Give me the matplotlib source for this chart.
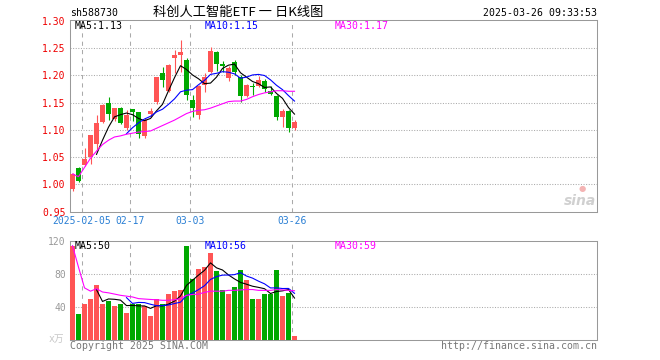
import matplotlib
matplotlib.use('Agg')
import matplotlib.pyplot as plt
import numpy as np

plt.rcParams['font.family'] = ['DejaVu Sans Mono', 'Noto Sans CJK SC']

# daily K data, 38 trading days (2025-01-24 .. 2025-03-26)
opens = [0.992, 1.030, 1.036, 1.051, 1.074, 1.115, 1.150, 1.120, 1.141, 1.104,
         1.138, 1.132, 1.088, 1.129, 1.152, 1.205, 1.172, 1.233, 1.238, 1.228,
         1.155, 1.128, 1.183, 1.206, 1.243, 1.221, 1.196, 1.224, 1.198, 1.162,
         1.181, 1.181, 1.190, 1.172, 1.162, 1.123, 1.135, 1.103]
highs = [1.021, 1.032, 1.066, 1.091, 1.127, 1.148, 1.161, 1.141, 1.142, 1.136,
         1.139, 1.133, 1.121, 1.140, 1.198, 1.216, 1.221, 1.247, 1.265, 1.232,
         1.165, 1.183, 1.204, 1.253, 1.245, 1.226, 1.218, 1.229, 1.201, 1.185,
         1.186, 1.199, 1.193, 1.180, 1.164, 1.139, 1.136, 1.118]
lows = [0.988, 1.004, 1.033, 1.038, 1.063, 1.113, 1.118, 1.117, 1.110, 1.100,
        1.116, 1.085, 1.085, 1.124, 1.148, 1.179, 1.170, 1.205, 1.207, 1.155,
        1.124, 1.120, 1.170, 1.204, 1.209, 1.206, 1.189, 1.201, 1.152, 1.160,
        1.164, 1.179, 1.170, 1.164, 1.118, 1.105, 1.097, 1.100]
closes = [1.019, 1.006, 1.047, 1.091, 1.113, 1.146, 1.129, 1.140, 1.113, 1.127,
          1.132, 1.093, 1.119, 1.135, 1.197, 1.192, 1.219, 1.238, 1.243, 1.165,
          1.141, 1.181, 1.197, 1.245, 1.222, 1.218, 1.214, 1.207, 1.163, 1.183,
          1.178, 1.192, 1.175, 1.166, 1.124, 1.135, 1.103, 1.115]
volumes = [114, 32, 43, 49, 66, 43, 47, 41, 44, 33, 44, 44, 41, 29, 49, 43, 55, 59, 60, 113,
           74, 86, 88, 105, 83, 61, 56, 64, 84, 72, 49, 49, 56, 55, 84, 53, 57, 4.5]

# moving average lines as shown (MA5 from day 5, MA10 from day 10)
ma5 = [1.055, 1.081, 1.105, 1.124, 1.128, 1.131, 1.128, 1.121, 1.117, 1.121,
       1.135, 1.147, 1.172, 1.196, 1.218, 1.211, 1.201, 1.194, 1.185, 1.186,
       1.197, 1.213, 1.219, 1.221, 1.205, 1.197, 1.189, 1.185, 1.178, 1.179,
       1.167, 1.158, 1.141, 1.129]
ma10 = [1.093, 1.104, 1.113, 1.120, 1.125, 1.133, 1.138, 1.147, 1.157, 1.170,
        1.173, 1.174, 1.183, 1.191, 1.202, 1.204, 1.207, 1.206, 1.203, 1.195,
        1.197, 1.201, 1.202, 1.200, 1.192, 1.182, 1.174, 1.163, 1.153]
ma30 = [1.019, 1.014, 1.031, 1.048, 1.061, 1.073, 1.081, 1.087, 1.089, 1.092,
        1.094, 1.096, 1.097, 1.098, 1.103, 1.108, 1.113, 1.118, 1.124, 1.130,
        1.134, 1.136, 1.137, 1.140, 1.144, 1.148, 1.152, 1.153, 1.153, 1.156,
        1.161, 1.165, 1.168, 1.170, 1.172, 1.172, 1.171, 1.171]
vma5 = [60.8, 46.6, 49.6, 49.2, 48.2, 41.6, 41.8, 41.2, 41.2, 38.2,
        41.4, 41.2, 43.4, 47.0, 53.2, 66.0, 72.2, 78.4, 84.2, 93.2,
        87.2, 84.6, 78.6, 73.8, 69.6, 67.4, 65.0, 63.6, 62.0, 56.2,
        58.6, 59.4, 61.0, 50.7]
vma10 = [51.2, 44.2, 45.4, 45.2, 43.2, 41.5, 41.5, 42.3, 44.1, 45.7,
         53.7, 56.7, 60.9, 65.6, 73.2, 76.6, 78.4, 78.5, 79.0, 81.4,
         77.3, 74.8, 71.1, 67.9, 62.9, 63.0, 62.2, 62.3, 56.4]
vma30 = [114, 88, 63, 59, 62, 58, 57, 55.5, 54, 53, 52, 50, 49.5, 49, 48.6, 48, 48, 48.6, 50, 54,
         55, 55.5, 57.5, 59, 59, 59, 60, 60, 60.5, 61, 61, 60, 60, 60, 61, 60.5, 60, 59.5]

date_pos = [2, 10, 20, 37]
date_labels = ['2025-02-05', '02-17', '03-03', '03-26']
price_ticks = [0.95, 1.00, 1.05, 1.10, 1.15, 1.20, 1.25, 1.30]
vol_ticks = [40, 80, 120]

RED = '#ff5555'
GREEN = '#00a800'
GRID = '#aaaaaa'
BORDER = '#999999'
W, H = 660, 360

fig = plt.figure(figsize=(6.6, 3.6), dpi=100)


def px_axes(x0, y0, x1, y1):
    return fig.add_axes([x0 / W, 1 - y1 / H, (x1 - x0) / W, (y1 - y0) / H])


def ftext(x, y, s, **kw):
    fig.text(x / W, 1 - y / H, s, **kw)


ax = px_axes(70, 20, 597, 211.5)
axv = px_axes(70, 240.7, 597, 340)

n = len(closes)
bw = 5 / 6
xs = np.arange(n)
xc = xs + bw / 2
xmax = 527 / 6
colors = [RED if c >= o else GREEN for o, c in zip(opens, closes)]

for a in (ax, axv):
    a.set_xlim(0, xmax)
    a.set_xticks([])
    for s in a.spines.values():
        s.set_color(BORDER)
        s.set_linewidth(0.75)
    a.tick_params(axis='y', length=0, pad=3, labelsize=7)
    for p in date_pos:
        a.axvline(p, color=GRID, lw=0.75, ls=(0, (4, 4)), zorder=0)

# price panel
ax.set_ylim(0.95, 1.302)
ax.set_yticks(price_ticks)
ax.set_yticklabels(['%.2f' % t for t in price_ticks])
ax.tick_params(axis='y', labelcolor='#ee0000')
for t in price_ticks[1:-1]:
    ax.axhline(t, color=GRID, lw=0.75, ls=(0, (1, 1.5)), zorder=0)

for i in range(n):
    ax.vlines(xc[i], lows[i], highs[i], color=colors[i], lw=0.8, zorder=2)
    bottom = min(opens[i], closes[i])
    height = max(abs(closes[i] - opens[i]), 0.002)
    ax.bar(xs[i], height, bw, bottom=bottom, align='edge', color=colors[i], lw=0, zorder=3)

ax.plot(xc[n - len(ma5):], ma5, color='black', lw=0.8, zorder=4)
ax.plot(xc[n - len(ma10):], ma10, color='#0000ff', lw=0.8, zorder=4)
ax.plot(xc[n - len(ma30):], ma30, color='#ff00ff', lw=0.8, zorder=4)

# volume panel
axv.set_ylim(0, 120)
axv.set_yticks(vol_ticks)
axv.set_yticklabels([str(t) for t in vol_ticks])
axv.tick_params(axis='y', labelcolor='#999999')
for t in vol_ticks[:-1]:
    axv.axhline(t, color=GRID, lw=0.75, ls=(0, (1, 1.5)), zorder=0)
axv.bar(xs, volumes, bw, align='edge', color=colors, lw=0, zorder=3)
axv.plot(xc[n - len(vma5):], vma5, color='black', lw=0.8, zorder=4)
axv.plot(xc[n - len(vma10):], vma10, color='#0000ff', lw=0.8, zorder=4)
axv.plot(xc[n - len(vma30):], vma30, color='#ff00ff', lw=0.8, zorder=4)

# dates under the price panel
for p, lab in zip(date_pos, date_labels):
    ax.text(p, -0.05, lab, transform=ax.get_xaxis_transform(), ha='center', va='center',
            fontsize=7, color='#2a7fd4')

# texts
fs = 7.1
ftext(70, 13, 'sh588730', fontsize=fs, va='center', ha='left')
ftext(238, 12, '科创人工智能ETF 一 日K线图', fontsize=9.5, va='center', ha='center',
      family=['Noto Sans CJK SC', 'DejaVu Sans'])
ftext(597, 13, '2025-03-26 09:33:53', fontsize=fs, va='center', ha='right')
ftext(75, 26, 'MA5:1.13', fontsize=fs, va='center', color='black')
ftext(205, 26, 'MA10:1.15', fontsize=fs, va='center', color='#0000ff')
ftext(335, 26, 'MA30:1.17', fontsize=fs, va='center', color='#ff00ff')
ftext(75, 246, 'MA5:50', fontsize=fs, va='center', color='black')
ftext(205, 246, 'MA10:56', fontsize=fs, va='center', color='#0000ff')
ftext(335, 246, 'MA30:59', fontsize=fs, va='center', color='#ff00ff')
ftext(49, 339, 'x万', fontsize=7, va='center', ha='left', color='#c8c8c8')
ftext(70, 346, 'Copyright 2025 SINA.COM', fontsize=fs, va='center', ha='left', color='#777777')
ftext(597, 346, 'http://finance.sina.com.cn', fontsize=fs, va='center', ha='right', color='#777777')
ftext(582, 188, '●', fontsize=6, va='center', ha='center', color='#f4b4b4', family='DejaVu Sans')
ftext(596, 201, 'sina', fontsize=10, va='center', ha='right', color='#d0d0d0',
      style='italic', weight='bold', family='DejaVu Sans')

fig.savefig('out.png', dpi=100)
